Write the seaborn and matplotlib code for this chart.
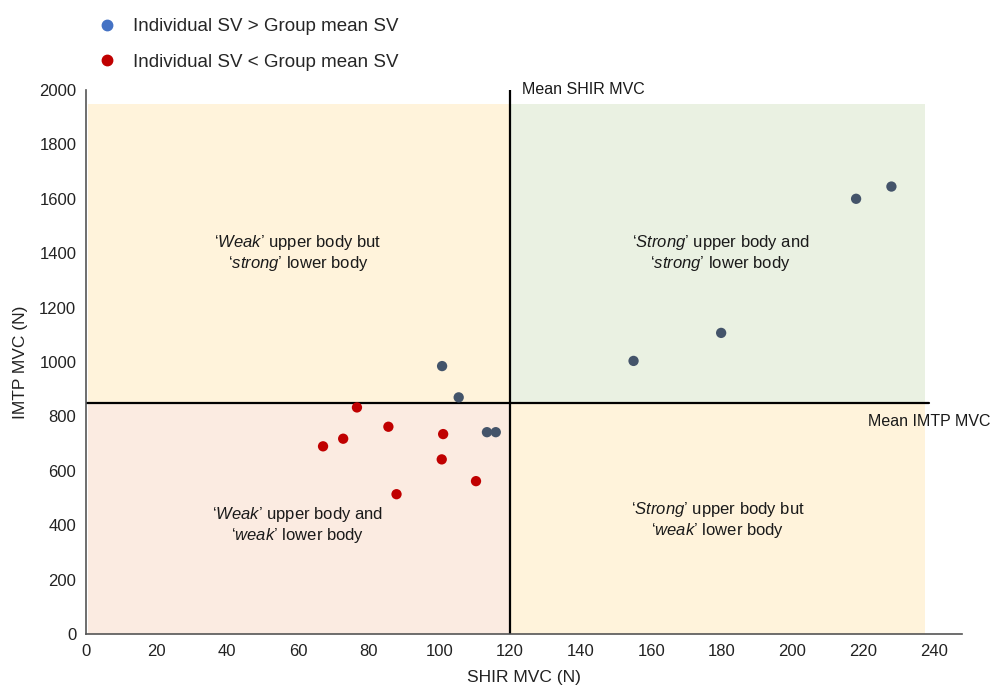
import matplotlib
matplotlib.use("Agg")
import matplotlib.pyplot as plt
from matplotlib.lines import Line2D
import seaborn as sns
import pandas as pd

# Individual results: SHIR MVC (N) and IMTP MVC (N)
shir_above = [100.8, 105.5, 113.5, 116.0, 155.0, 179.8, 218.0, 228.0]
imtp_above = [985, 870, 742, 742, 1004, 1107, 1600, 1645]
shir_below = [76.7, 85.6, 72.8, 67.1, 101.1, 100.7, 110.4, 87.9]
imtp_below = [833, 762, 718, 690, 735, 642, 562, 514]

group_labels = ["Individual SV > Group mean SV", "Individual SV < Group mean SV"]
mean_shir = 120
mean_imtp = 850
x_ticks = list(range(0, 241, 20))
y_ticks = list(range(0, 2001, 200))

df = pd.DataFrame({
    "SHIR": shir_above + shir_below,
    "IMTP": imtp_above + imtp_below,
    "group": [group_labels[0]] * len(shir_above) + [group_labels[1]] * len(shir_below),
})

sns.set_theme(style="white")
plt.rcParams["font.family"] = ["Liberation Sans", "DejaVu Sans"]
plt.rcParams["mathtext.fontset"] = "custom"
plt.rcParams["mathtext.rm"] = "Liberation Sans"
plt.rcParams["mathtext.it"] = "Liberation Sans:italic"

fig = plt.figure(figsize=(9.91, 6.89), dpi=100)
ax = fig.add_axes([0.0868, 0.0798, 0.884, 0.7896])

# Quadrant shading
x0, x1, y0, y1 = 0.5, 237.5, 0, 1950
ax.fill_between([x0, mean_shir], mean_imtp, y1, color="#FFF3DB", lw=0, zorder=0)
ax.fill_between([mean_shir, x1], mean_imtp, y1, color="#EAF1E2", lw=0, zorder=0)
ax.fill_between([x0, mean_shir], y0, mean_imtp, color="#FBEBE1", lw=0, zorder=0)
ax.fill_between([mean_shir, x1], y0, mean_imtp, color="#FFF3DB", lw=0, zorder=0)

# Mean lines
ax.plot([mean_shir, mean_shir], [0, 2000], color="black", lw=1.6, zorder=2)
ax.plot([0, 238.5], [mean_imtp, mean_imtp], color="black", lw=1.6, zorder=2)

sns.scatterplot(data=df, x="SHIR", y="IMTP", hue="group",
                palette={group_labels[0]: "#44546A", group_labels[1]: "#C00000"},
                s=55, edgecolor="none", legend=False, ax=ax, zorder=3)

ax.set_xlim(0, 248)
ax.set_ylim(0, 2000)
ax.set_xticks(x_ticks)
ax.set_yticks(y_ticks)
ax.tick_params(axis="both", labelsize=12, colors="#222222", length=0, pad=7)
for side in ["top", "right"]:
    ax.spines[side].set_visible(False)
for side in ["left", "bottom"]:
    ax.spines[side].set_color("#555555")
    ax.spines[side].set_linewidth(1.2)
ax.set_xlabel("SHIR MVC (N)", fontsize=12.5, color="#222222", labelpad=8)
ax.set_ylabel("IMTP MVC (N)", fontsize=12.5, color="#222222", labelpad=8)

qkw = dict(ha="center", va="center", fontsize=12, color="#1a1a1a", multialignment="center",
           linespacing=1.15)
ax.text(60, 1400, "‘$\\mathit{Weak}$’ upper body but\n‘$\\mathit{strong}$’ lower body", **qkw)
ax.text(179.6, 1400, "‘$\\mathit{Strong}$’ upper body and\n‘$\\mathit{strong}$’ lower body", **qkw)
ax.text(60, 402, "‘$\\mathit{Weak}$’ upper body and\n‘$\\mathit{weak}$’ lower body", **qkw)
ax.text(178.8, 418, "‘$\\mathit{Strong}$’ upper body but\n‘$\\mathit{weak}$’ lower body", **qkw)

ax.text(123.5, 2000, "Mean SHIR MVC", ha="left", va="center", fontsize=11.5, color="#1a1a1a",
        clip_on=False)
fig.text(0.999, 1 - 421 / 689, "Mean IMTP MVC", ha="right", va="center", fontsize=11.5,
         color="#1a1a1a")

handles = [
    Line2D([], [], marker="o", ls="", color="#4472C4", markersize=7.5),
    Line2D([], [], marker="o", ls="", color="#C00000", markersize=7.5),
]
fig.legend(handles, group_labels, loc="upper left", bbox_to_anchor=(0.085, 0.993),
           frameon=False, fontsize=13.5, handlelength=1.0, handletextpad=0.9,
           labelspacing=1.0, borderaxespad=0.3)

fig.savefig("out.png", dpi=100)
